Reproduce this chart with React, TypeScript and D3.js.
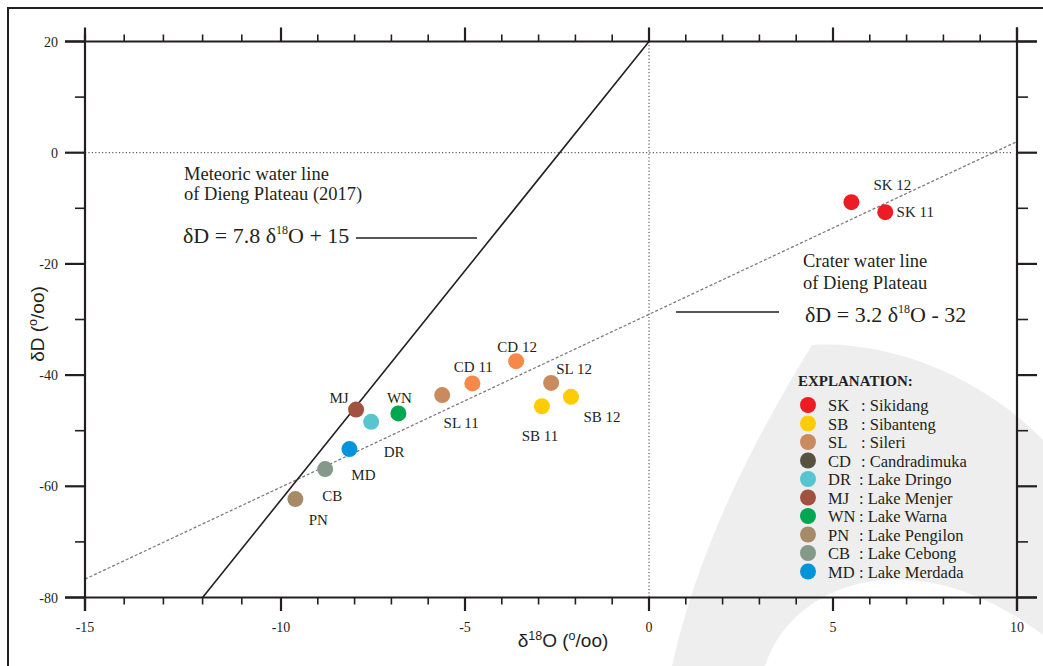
import * as d3 from "d3";

// sample points
const sampleLabels = ["SK 12", "SK 11", "SB 11", "SB 12", "SL 11", "SL 12", "CD 11", "CD 12", "DR", "MJ", "WN", "PN", "CB", "MD"];
const sampleD18O = [5.5, 6.42, -2.91, -2.12, -5.62, -2.66, -4.8, -3.61, -7.55, -7.96, -6.81, -9.61, -8.8, -8.14];
const sampleDD = [-8.9, -10.7, -45.6, -43.9, -43.6, -41.4, -41.5, -37.5, -48.4, -46.2, -46.9, -62.3, -56.9, -53.3];
const sampleColors = ["#ed1c24", "#ed1c24", "#ffcb05", "#ffcb05", "#c98b5d", "#c98b5d", "#f6884a", "#f6884a", "#57c5d0", "#a1523f", "#00a650", "#a78a67", "#84998a", "#0095db"];

// legend
const legendCodes = ["SK", "SB", "SL", "CD", "DR", "MJ", "WN", "PN", "CB", "MD"];
const legendNames = ["Sikidang", "Sibanteng", "Sileri", "Candradimuka", "Lake Dringo", "Lake Menjer", "Lake Warna", "Lake Pengilon", "Lake Cebong", "Lake Merdada"];
const legendColors = ["#ed1c24", "#ffcb05", "#c98b5d", "#57523f", "#57c5d0", "#a1523f", "#00a650", "#a78a67", "#84998a", "#0095db"];

// reference lines (end points as drawn)
const mwlX = [-12, 0];
const mwlY = [-80, 20];
const craterX = [-15, 10];
const craterY = [-76.7, 2];

// ticks
const xMajorTicks = [-15, -10, -5, 0, 5, 10];
const xMinorTicks = d3.range(-15, 11, 1);
const yMajorTicks = [20, 0, -20, -40, -60, -80];
const yMinorTicks = d3.range(-80, 21, 10);

// label placement relative to its dot [dx, dy]
const labelOffset: Record<string, [number, number]> = {
  "SK 12": [41, -12], "SK 11": [30, 5], "SB 11": [-2, 35], "SB 12": [31, 25],
  "SL 11": [19, 33], "SL 12": [23, -9], "CD 11": [1, -11], "CD 12": [1, -9],
  DR: [23, 35], MJ: [-17, -7], WN: [1, -10], PN: [23, 26], CB: [7, 32], MD: [14, 31],
};

const W = 1043;
const H = 666;
const ink = "#231f20";
const serif = "'Liberation Serif', 'Times New Roman', serif";
const sans = "'Liberation Sans', Arial, sans-serif";

export default function App() {
  const x = d3.scaleLinear().domain([-15, -10, 10]).range([85, 281, 1017]);
  const y = d3.scaleLinear().domain([-80, 20]).range([597.5, 41.5]);
  const [x0, x1] = [x(-15), x(10)];
  const [y0, y1] = [y(-80), y(20)];

  const line = d3
    .line<number>()
    .x((d) => d[0])
    .y((d) => d[1]);
  const mwlPath = line(mwlX.map((v, i) => [x(v), y(mwlY[i])]) as any);
  const craterPath = line(craterX.map((v, i) => [x(v), y(craterY[i])]) as any);

  return (
    <svg
      width={W}
      height={H}
      style={{ position: "absolute", left: 0, top: 0, display: "block", background: "#fff" }}
    >
      {/* faint watermark */}
      <path
        d="M812 345 C 760 430, 700 540, 672 666 L 1043 666 L 1043 440 C 990 385, 900 340, 812 345 Z"
        fill="#eeeeee"
      />
      <path d="M 765 666 C 790 585, 910 535, 1043 635 L 1043 666 Z" fill="#fff" />

      {/* outer frame */}
      <path d={`M8 ${H} L8 8 L${W} 8`} fill="none" stroke={ink} strokeWidth={2} />

      {/* zero reference lines */}
      <line x1={x0} x2={x1 - 4} y1={y(0)} y2={y(0)} stroke={ink} strokeWidth={0.9} strokeDasharray="1.2,2.2" />
      <line x1={x(0)} x2={x(0)} y1={y1} y2={y0} stroke={ink} strokeWidth={0.9} strokeDasharray="1.2,2.2" />

      {/* water lines */}
      <path d={craterPath ?? ""} fill="none" stroke="#7a7a7a" strokeWidth={1.3} strokeDasharray="3,2" />
      <path d={mwlPath ?? ""} fill="none" stroke={ink} strokeWidth={1.6} />

      {/* axes */}
      <g stroke={ink} strokeWidth={2.2}>
        <line x1={x0 - 20} x2={x1 + 20} y1={y1} y2={y1} />
        <line x1={x0 - 20} x2={x1 + 20} y1={y0} y2={y0} />
        <line x1={x0} x2={x0} y1={y1 - 8} y2={y0 + 13.5} />
        <line x1={x1} x2={x1} y1={y1 - 14} y2={y0 + 13.5} />
      </g>
      <g stroke={ink}>
        {xMinorTicks.map((t) => {
          const major = xMajorTicks.includes(t);
          return (
            <g key={"xt" + t} strokeWidth={major ? 2.2 : 1.6}>
              <line x1={x(t)} x2={x(t)} y1={y1} y2={y1 - (major ? 14 : 7)} />
              <line x1={x(t)} x2={x(t)} y1={y0} y2={y0 + (major ? 13.5 : 7)} />
            </g>
          );
        })}
        {yMinorTicks.map((t) => {
          const major = yMajorTicks.includes(t);
          return (
            <g key={"yt" + t} strokeWidth={major ? 2.2 : 1.6}>
              <line x1={x0} x2={x0 - (major ? 20 : 10)} y1={y(t)} y2={y(t)} />
              <line x1={x1} x2={x1 + (major ? 20 : 11)} y1={y(t)} y2={y(t)} />
            </g>
          );
        })}
      </g>
      <g fontFamily={serif} fontSize={14} fill={ink}>
        {xMajorTicks.map((t) => (
          <text key={"xl" + t} x={x(t)} y={632} textAnchor="middle">
            {t}
          </text>
        ))}
        {yMajorTicks.map((t) => (
          <text key={"yl" + t} x={58} y={y(t) + 5} textAnchor="end">
            {t}
          </text>
        ))}
      </g>

      {/* axis titles */}
      <text x={563} y={647} textAnchor="middle" fontFamily={sans} fontSize={19} fill={ink}>
        δ<tspan fontSize={12.5} dy={-7}>18</tspan>
        <tspan dy={7}>O (</tspan>
        <tspan fontSize={12.5} dy={-7}>o</tspan>
        <tspan dy={7}>/oo)</tspan>
      </text>
      <text
        transform="translate(44,324) rotate(-90)"
        textAnchor="middle"
        fontFamily={sans}
        fontSize={19}
        fill={ink}
      >
        δD (<tspan fontSize={12.5} dy={-7}>o</tspan>
        <tspan dy={7}>/oo)</tspan>
      </text>

      {/* annotations */}
      <g fontFamily={serif} fill={ink}>
        <text x={184} y={180} fontSize={18.5}>Meteoric water line</text>
        <text x={184} y={200} fontSize={18.5}>of Dieng Plateau (2017)</text>
        <text x={183} y={243} fontSize={22}>
          δD = 7.8 δ<tspan fontSize={12} dy={-9}>18</tspan>
          <tspan dy={9}>O + 15</tspan>
        </text>
        <line x1={356} x2={477} y1={238} y2={238} stroke={ink} strokeWidth={1.4} />

        <text x={803} y={267} fontSize={18.5}>Crater water line</text>
        <text x={803} y={289} fontSize={18.5}>of Dieng Plateau</text>
        <text x={805} y={322} fontSize={22}>
          δD = 3.2 δ<tspan fontSize={12} dy={-9}>18</tspan>
          <tspan dy={9}>O - 32</tspan>
        </text>
        <line x1={676} x2={779} y1={312} y2={312} stroke={ink} strokeWidth={1.4} />
      </g>

      {/* samples */}
      <g>
        {sampleLabels.map((lab, i) => (
          <circle key={"p" + lab} cx={x(sampleD18O[i])} cy={y(sampleDD[i])} r={8} fill={sampleColors[i]} />
        ))}
      </g>
      <g fontFamily={serif} fontSize={15} fill={ink} textAnchor="middle">
        {sampleLabels.map((lab, i) => (
          <text
            key={"l" + lab}
            x={x(sampleD18O[i]) + labelOffset[lab][0]}
            y={y(sampleDD[i]) + labelOffset[lab][1]}
          >
            {lab}
          </text>
        ))}
      </g>

      {/* legend */}
      <g fontFamily={serif} fill={ink}>
        <text x={798} y={386} fontSize={15} fontWeight="bold">EXPLANATION:</text>
        {legendCodes.map((c, i) => {
          const cy = 405 + i * 18.5;
          return (
            <g key={"lg" + c}>
              <circle cx={808} cy={cy} r={8} fill={legendColors[i]} />
              <text x={828} y={cy + 6} fontSize={16.5}>{c}</text>
              <text x={i < 4 ? 861 : 859} y={cy + 6} fontSize={16.5}>: {legendNames[i]}</text>
            </g>
          );
        })}
      </g>
    </svg>
  );
}
